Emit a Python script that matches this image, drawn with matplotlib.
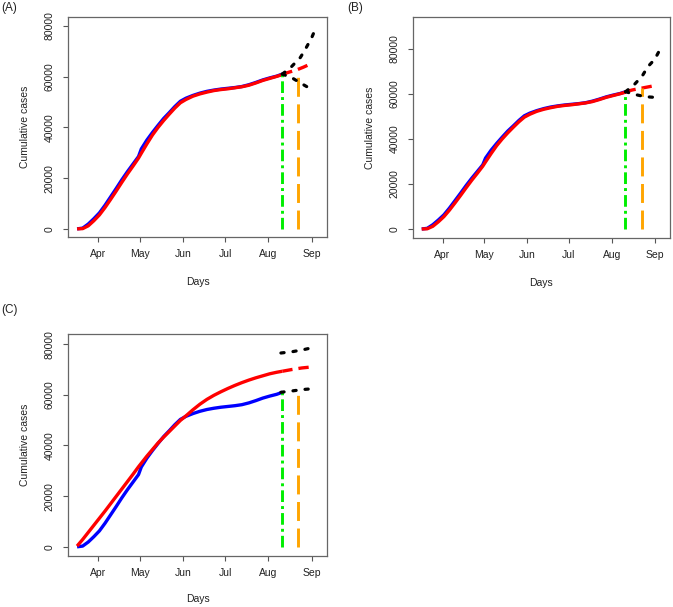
import pandas as pd
import matplotlib
matplotlib.use('Agg')
import matplotlib.pyplot as plt

plt.rcParams['font.family'] = ['Liberation Sans', 'DejaVu Sans']

# observed cumulative cases (blue)
obs_dates = pd.to_datetime([
    '2020-03-17', '2020-03-21', '2020-03-25', '2020-03-29', '2020-04-02', '2020-04-06',
    '2020-04-10', '2020-04-14', '2020-04-18', '2020-04-22', '2020-04-26', '2020-04-30',
    '2020-05-02', '2020-05-06', '2020-05-10', '2020-05-14', '2020-05-18', '2020-05-22',
    '2020-05-26', '2020-05-30', '2020-06-03', '2020-06-08', '2020-06-13', '2020-06-18',
    '2020-06-23', '2020-06-28', '2020-07-03', '2020-07-08', '2020-07-13', '2020-07-18',
    '2020-07-23', '2020-07-28', '2020-08-02', '2020-08-07', '2020-08-11'])
observed = [0, 300, 1900, 4000, 6300, 9300, 12600, 15900, 19300, 22500, 25500, 28500,
            31500, 35000, 38000, 40800, 43500, 45800, 48200, 50300, 51500, 52600, 53500, 54200,
            54700, 55100, 55400, 55700, 56100, 56800, 57700, 58700, 59500, 60200, 61000]

# model fits (red)
fit_ab = [0, 100, 1200, 3200, 5500, 8400, 11600, 14900, 18300, 21600, 24700, 27900,
          29800, 33500, 37000, 40000, 42700, 45200, 47600, 49700, 51000, 52300, 53200, 53900,
          54500, 54900, 55200, 55600, 56000, 56600, 57500, 58500, 59300, 60100, 60800]
fit_c = [300, 2900, 5700, 8500, 11300, 14100, 17000, 19900, 22800, 25700, 28600, 31600,
         33000, 35800, 38400, 41000, 43300, 45500, 47700, 49900, 51700, 54100, 56300, 58200,
         59800, 61200, 62500, 63700, 64800, 65800, 66700, 67500, 68300, 68900, 69300]

# projections (red dashed)
proj_dates_a = pd.to_datetime(['2020-08-11', '2020-08-16', '2020-08-21', '2020-08-26', '2020-09-01'])
proj_a = [60900, 61800, 62600, 63700, 65200]
proj_dates_b = pd.to_datetime(['2020-08-11', '2020-08-16', '2020-08-21', '2020-08-26', '2020-09-01'])
proj_b = [61000, 61800, 62400, 63000, 63700]
proj_dates_c = pd.to_datetime(['2020-08-11', '2020-08-18', '2020-08-25', '2020-09-01'])
proj_c = [69300, 70000, 70600, 71000]

# bounds (black dotted)
upper_dates_a = pd.to_datetime(['2020-08-11', '2020-08-17', '2020-08-24', '2020-08-28', '2020-09-01', '2020-09-04'])
upper_a = [61000, 63600, 67600, 71300, 75300, 79200]
lower_dates_a = pd.to_datetime(['2020-08-11', '2020-08-18', '2020-08-24', '2020-08-29', '2020-09-03'])
lower_a = [61000, 59500, 57500, 55900, 54600]

upper_dates_b = pd.to_datetime(['2020-08-11', '2020-08-17', '2020-08-23', '2020-08-27', '2020-09-01', '2020-09-05'])
upper_b = [61000, 64000, 68000, 72100, 75400, 80000]
lower_dates_b = pd.to_datetime(['2020-08-11', '2020-08-19', '2020-08-25', '2020-09-03'])
lower_b = [61000, 59600, 58800, 58400]

upper_dates_c = pd.to_datetime(['2020-08-10', '2020-08-18', '2020-08-26', '2020-09-04'])
upper_c = [76500, 77000, 77800, 78900]
lower_dates_c = pd.to_datetime(['2020-08-10', '2020-08-19', '2020-08-26', '2020-09-04'])
lower_c = [61000, 61600, 62100, 62500]

# vertical markers
green_date = pd.Timestamp('2020-08-10 12:00')
orange_date = pd.Timestamp('2020-08-22 12:00')
green_top = [61000, 61000, 61000]
orange_top = [62600, 62600, 61500]

month_ticks = pd.to_datetime(['2020-04-01', '2020-05-01', '2020-06-01', '2020-07-01', '2020-08-01', '2020-09-01'])
month_labels = ['Apr', 'May', 'Jun', 'Jul', 'Aug', 'Sep']
y_ticks = [0, 20000, 40000, 60000, 80000]

W, H = 673, 607
FS = 7.5


def px_axes(fig, left, top, right, bottom):
    return fig.add_axes([left / W, 1 - bottom / H, (right - left) / W, (bottom - top) / H])


def draw_panel(ax, fit, pdates, proj, udates, upper, ldates, lower, gtop, otop, ylim, xlab_y):
    ax.plot(obs_dates, observed, color='#0000ff', lw=2.4, solid_capstyle='butt')
    ax.plot(obs_dates, fit, color='#ff0000', lw=2.4, solid_capstyle='butt')
    ax.plot(pdates, proj, color='#ff0000', lw=2.4, dashes=(3.1, 1.8))
    ax.plot([green_date, green_date], [0, gtop], color='#00ee00', lw=2.1,
            dashes=(4, 1.4, 1, 1.4))
    ax.plot([orange_date, orange_date], [0, otop], color='#ffa500', lw=2.1, dashes=(6.5, 2.6))
    ax.plot(udates, upper, color='black', lw=2.3, dashes=(1, 2.8), dash_capstyle='round')
    ax.plot(ldates, lower, color='black', lw=2.3, dashes=(1, 2.8), dash_capstyle='round')

    ax.set_xlim(pd.Timestamp('2020-03-10 12:00'), pd.Timestamp('2020-09-12'))
    ax.set_ylim(*ylim)
    ax.set_xticks(month_ticks)
    ax.set_xticklabels(month_labels)
    ax.set_yticks(y_ticks)
    ax.set_yticklabels([str(v) for v in y_ticks], rotation=90, va='center')
    ax.tick_params(axis='both', length=3.6, width=0.8, color='#555555', labelsize=FS,
                   labelcolor='#222222')
    ax.tick_params(axis='x', pad=5)
    ax.tick_params(axis='y', pad=6)
    for s in ax.spines.values():
        s.set_color('#666666')
        s.set_linewidth(0.9)
    ax.set_xlabel('Days', fontsize=FS, va='center', color='#222222')
    ax.xaxis.set_label_coords(0.5, xlab_y)
    ax.set_ylabel('Cumulative cases', fontsize=FS, va='center', color='#222222')
    ax.yaxis.set_label_coords(-0.166, 0.5)


fig = plt.figure(figsize=(W / 100, H / 100), dpi=100)

ax_a = px_axes(fig, 68, 17, 327, 237)
draw_panel(ax_a, fit_ab, proj_dates_a, proj_a, upper_dates_a, upper_a, lower_dates_a, lower_a,
           green_top[0], orange_top[0], (-3200, 83500), -0.2045)

ax_b = px_axes(fig, 412.7, 17, 670, 238)
draw_panel(ax_b, fit_ab, proj_dates_b, proj_b, upper_dates_b, upper_b, lower_dates_b, lower_b,
           green_top[1], orange_top[1], (-4000, 94200), -0.202)
ax_b.yaxis.set_label_coords(-0.166 * 259 / 257.3, 0.5)

ax_c = px_axes(fig, 68, 334, 327, 555.7)
draw_panel(ax_c, fit_c, proj_dates_c, proj_c, upper_dates_c, upper_c, lower_dates_c, lower_c,
           green_top[2], orange_top[2], (-3500, 84000), -0.195)

fig.text(9 / W, 1 - 8 / H, '(A)', fontsize=8.5, ha='center', va='center', color='#222222')
fig.text(355.3 / W, 1 - 8 / H, '(B)', fontsize=8.5, ha='center', va='center', color='#222222')
fig.text(9.5 / W, 1 - 310 / H, '(C)', fontsize=8.5, ha='center', va='center', color='#222222')

fig.savefig('out.png', dpi=100)
